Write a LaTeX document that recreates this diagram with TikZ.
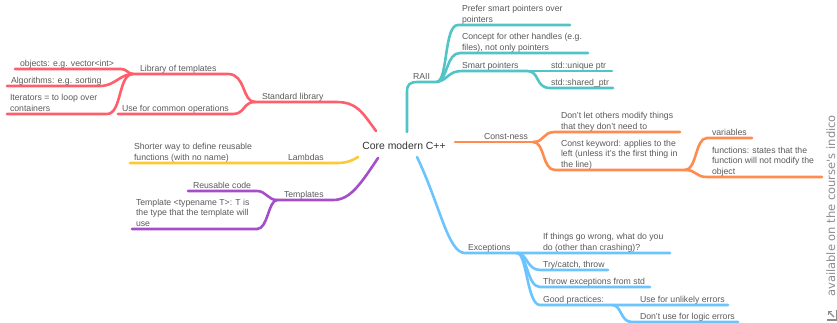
\documentclass[tikz,border=0pt]{standalone}
\usepackage{fontspec}
\usetikzlibrary{arrows.meta}
\setmainfont{Liberation Sans}
\newfontfamily\wmfont{DejaVu Sans}
\definecolor{cred}{HTML}{FF5E6C}
\definecolor{cteal}{HTML}{52C4C6}
\definecolor{corange}{HTML}{FF8B4E}
\definecolor{cblue}{HTML}{6CC4FF}
\definecolor{cyellow}{HTML}{FFC933}
\definecolor{cpurple}{HTML}{A44ECA}
\definecolor{ctext}{HTML}{5A5A5A}
\tikzset{
  br/.style={line width=2.6pt, line cap=round, line join=round},
  lbl/.style={anchor=south west, inner sep=0pt, outer sep=0pt, text=ctext,
    font=\fontsize{8.7}{10.4}\selectfont, align=left, text depth=0pt},
}
\begin{document}
\begin{tikzpicture}[x=1pt,y=-1pt]
\useasboundingbox (0,0) rectangle (837,323);

% centre
\node[inner sep=0pt, text=black!80, font=\fontsize{10.4}{12}\selectfont] (core) at (404,146) {Core modern C++};

% fork coordinates
\coordinate (sl) at (255,102);
\coordinate (lt) at (133,74);
\coordinate (tp) at (277,200);
\coordinate (ra) at (437,82);
\coordinate (sp) at (527,71);
\coordinate (cn) at (533,142);
\coordinate (ck) at (685,170);
\coordinate (ex) at (517,253);
\coordinate (gp) at (612,305);

% ---------- red
\draw[br,cred] (376,131) .. controls (362,112) and (357,102) .. (336,102) -- (sl);
\draw[br,cred] (sl) .. controls (242,102) and (246,74) .. (228,74) -- (lt);
\draw[br,cred] (sl) .. controls (243,102) and (245,114) .. (233,114) -- (118,114);
\draw[br,cred] (lt) .. controls (128,74) and (127,69) .. (121,69) -- (15,69);
\draw[br,cred] (lt) .. controls (120,74) and (115,86) .. (100,86) -- (7,86);
\draw[br,cred] (lt) .. controls (118,74) and (122,114) .. (107,114) -- (7,114);
\node[lbl] (obj) at (20,66.3) {objects: e.g. vector<int>};
\node[lbl] (alg) at (11,83.3) {Algorithms: e.g. sorting};
\node[lbl] (itr) at (10,111.3) {Iterators = to loop over\\containers};
\node[lbl] (lib) at (140,71.3) {Library of templates};
\node[lbl] (use) at (122,111.3) {Use for common operations};
\node[lbl] (std) at (262,99.3) {Standard library};

% ---------- yellow
\draw[br,cyellow] (358,157) .. controls (350,162) and (345,163) .. (335,163) -- (130,163);
\node[lbl] (shw) at (134,160.3) {Shorter way to define reusable\\functions (with no name)};
\node[lbl] (lam) at (288,160.3) {Lambdas};

% ---------- purple
\draw[br,cpurple] (378,158) .. controls (360,185) and (350,200) .. (333,200) -- (tp);
\draw[br,cpurple] (tp) .. controls (268,200) and (266,191) .. (257,191) -- (188,191);
\draw[br,cpurple] (tp) .. controls (268,201) and (268,229) .. (257,229) -- (132,229);
\node[lbl] (reu) at (193,188.3) {Reusable code};
\node[lbl] (tpl) at (284,197.3) {Templates};
\node[lbl] (tty) at (136,226.3) {Template <typename T>: T is\\the type that the template will\\use};

% ---------- teal
\draw[br,cteal] (407,132) -- (407,92) .. controls (407,84) and (410,82) .. (418,82) -- (ra);
\draw[br,cteal] (ra) .. controls (448,80) and (444,25) .. (458,25) -- (570,25);
\draw[br,cteal] (ra) .. controls (448,80) and (446,53) .. (460,53) -- (588,53);
\draw[br,cteal] (ra) .. controls (448,80) and (448,71) .. (462,71) -- (sp);
\draw[br,cteal] (sp) -- (612,71);
\draw[br,cteal] (sp) .. controls (540,71) and (535,88) .. (550,88) -- (613,88);
\node[lbl] (raii) at (413,79.3) {RAII};
\node[lbl] (pref) at (462,22.3) {Prefer smart pointers over\\pointers};
\node[lbl] (conc) at (462,50.3) {Concept for other handles (e.g.\\files), not only pointers};
\node[lbl] (smrt) at (462,68.3) {Smart pointers};
\node[lbl] (uniq) at (551,68.3) {std::unique ptr};
\node[lbl] (shrd) at (551,85.3) {std::shared\_ptr};

% ---------- orange
\draw[br,corange] (455,142) -- (cn);
\draw[br,corange] (cn) .. controls (545,142) and (542,132) .. (555,132) -- (680,132);
\draw[br,corange] (cn) .. controls (545,142) and (542,170) .. (555,170) -- (ck);
\draw[br,corange] (ck) .. controls (697,170) and (695,138) .. (707,138) -- (752,138);
\draw[br,corange] (ck) .. controls (697,170) and (695,177) .. (707,177) -- (822,177);
\node[lbl] (cns) at (484,139.3) {Const-ness};
\node[lbl] (dnt) at (561,129.3) {Don’t let others modify things\\that they don’t need to};
\node[lbl] (ckw) at (561,167.3) {Const keyword: applies to the\\left (unless it’s the first thing in\\the line)};
\node[lbl] (var) at (712,135.3) {variables};
\node[lbl] (fun) at (712,174.3) {functions: states that the\\function will not modify the\\object};

% ---------- blue
\draw[br,cblue] (417,157) .. controls (440,205) and (448,253) .. (465,253) -- (670,253);
\draw[br,cblue] (ex) .. controls (527,253) and (527,270) .. (540,270) -- (608,270);
\draw[br,cblue] (ex) .. controls (527,253) and (527,287) .. (540,287) -- (650,287);
\draw[br,cblue] (ex) .. controls (527,253) and (527,305) .. (540,305) -- (728,305);
\draw[br,cblue] (gp) .. controls (622,305) and (620,322) .. (632,322) -- (738,322);
\node[lbl] (exc) at (468,250.3) {Exceptions};
\node[lbl] (ifw) at (543,250.3) {If things go wrong, what do you\\do (other than crashing)?};
\node[lbl] (try) at (543,267.3) {Try/catch, throw};
\node[lbl] (thr) at (543,284.3) {Throw exceptions from std};
\node[lbl] (goo) at (543,302.3) {Good practices:};
\node[lbl] (unl) at (640,302.3) {Use for unlikely errors};
\node[lbl] (log) at (640,319.3) {Don’t use for logic errors};

% ---------- watermark
\node[rotate=90, anchor=base west, inner sep=0pt, text=black!45,
  font=\wmfont\fontsize{11.5}{14}\selectfont] (wm) at (835,297) {available on the course's indico};
\draw[black!45, line width=1.1pt] (837,310) -- (837,320) -- (827,320);
\draw[black!45, line width=1.1pt, -{Straight Barb[length=2.5pt]}] (834,317) -- (828,311);
\end{tikzpicture}
\end{document}
